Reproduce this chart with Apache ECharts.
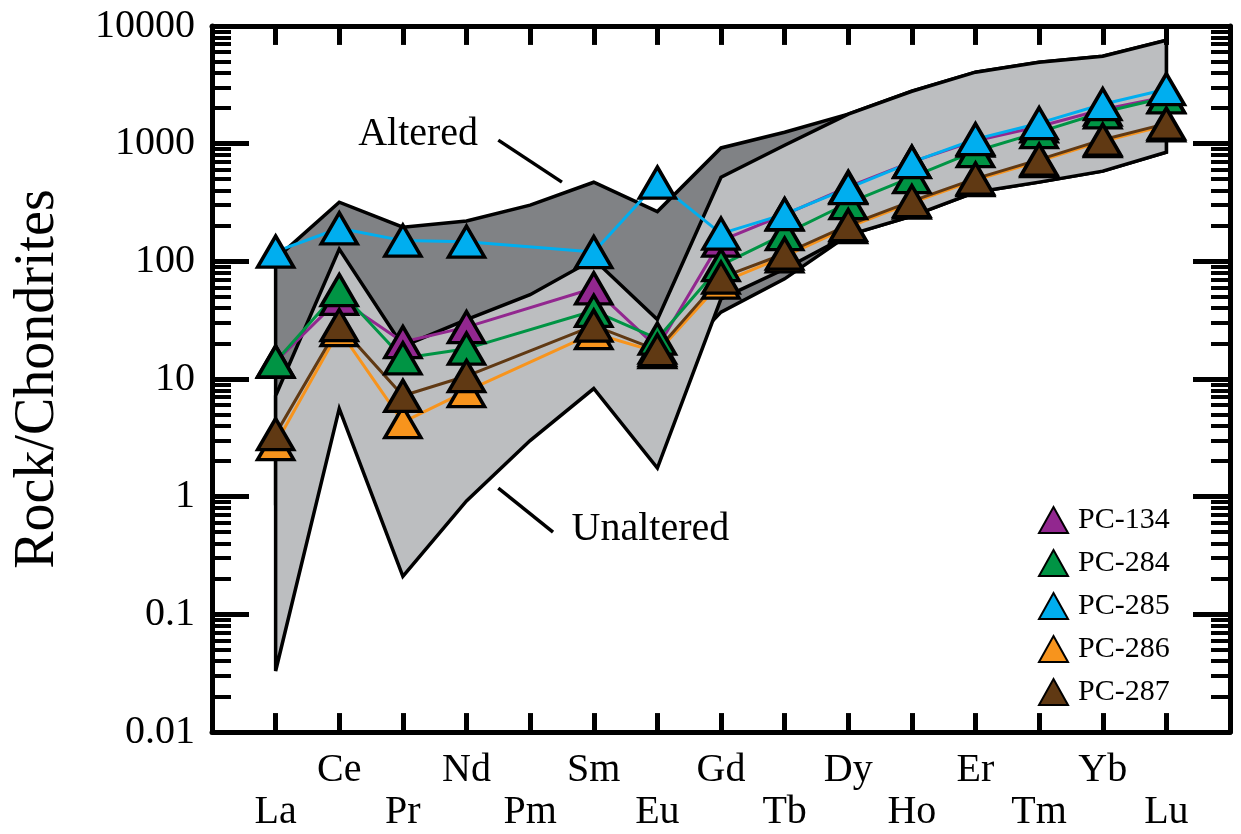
<!DOCTYPE html>
<html>
<head>
<meta charset="utf-8">
<title>Rock/Chondrites</title>
<script src="https://cdn.jsdelivr.net/npm/echarts@6/dist/echarts.min.js"></script>
<style>
  html, body { margin: 0; padding: 0; background: #fff; }
  #chart { width: 1241px; height: 834px; }
</style>
</head>
<body>
<div id="chart"></div>
<script>
// REE, chondrite-normalised
var elements = ['La', 'Ce', 'Pr', 'Nd', 'Pm', 'Sm', 'Eu', 'Gd', 'Tb', 'Dy', 'Ho', 'Er', 'Tm', 'Yb', 'Lu'];
var yTicks = [0.01, 0.1, 1, 10, 100, 1000, 10000];

// samples (Pm not measured)
var pc134 = [14, 48, 20.6, 27.6, null, 59, 18.5, 150, 250, 430, 700, 1060, 1400, 1950, 2500];
var pc284 = [14.1, 57, 15, 18.1, null, 38, 22, 93, 170, 313, 520, 863, 1254, 1849, 2480];
var pc285 = [121, 191, 150, 147, null, 120, 467, 172, 252, 419, 697, 1092, 1493, 2163, 2904];
var pc286 = [2.8, 26, 4.3, 7.9, null, 24.5, 16.9, 66, 110, 195, 315, 490, 710, 1050, 1430];
var pc287 = [3.4, 28.7, 7.2, 10.6, null, 28.4, 17.6, 72.7, 116, 203, 325, 505, 731, 1081, 1479];

// envelopes
var alteredUpper = [105, 318, 195, 220, 300, 470, 265, 920, 1250, 1780, 2790, 4050, 4920, 5540, 7570];
var alteredLower = [1, 20, 5, 10, 15, 20, 10, 37, 71, 167, 242, 387, 471, 584, 847];
var unalteredUpper = [7.2, 127, 19, 32, 52, 104, 32, 519, 970, 1780, 2790, 4050, 4920, 5540, 7570];
var unalteredLower = [0.033, 5.6, 0.21, 0.92, 3.0, 8.3, 1.75, 48, 86, 167, 242, 387, 471, 584, 847];

var FONT = 'Liberation Serif';

var minorTicks = [];
yTicks.slice(0, -1).forEach(function (d) {
  for (var k = 2; k <= 9; k++) minorTicks.push(+(d * k).toPrecision(3));
});

// label axis: one blank slot each side so elements sit one step in from the frame
var tickCats = [''].concat(elements, ['']);

function toPoints(arr) {
  var out = [];
  arr.forEach(function (v, i) { if (v != null) out.push([i, v]); });
  return out;
}

function band(name, upper, lower, fill) {
  return {
    name: name,
    type: 'custom',
    silent: true,
    z: 1,
    data: upper.map(function (v, i) { return [i, v, lower[i]]; }),
    encode: { x: 0, y: [1, 2] },
    renderItem: function (params, api) {
      if (params.dataIndex !== 0) return null;
      var pts = [];
      upper.forEach(function (v, i) { pts.push(api.coord([i, v])); });
      for (var i = lower.length - 1; i >= 0; i--) pts.push(api.coord([i, lower[i]]));
      return {
        type: 'polygon',
        shape: { points: pts },
        style: { fill: fill, stroke: '#000', lineWidth: 3.5, miterLimit: 6 }
      };
    }
  };
}

function sample(name, arr, color) {
  return {
    name: name,
    type: 'line',
    data: toPoints(arr),
    z: 3,
    symbol: 'triangle',
    symbolSize: [36, 31],
    lineStyle: { color: color, width: 3 },
    itemStyle: { color: color, borderColor: '#000', borderWidth: 3.5 },
    emphasis: { disabled: true }
  };
}

var myChart = echarts.init(document.getElementById('chart'));

function yAxisCfg(pos, major, label) {
  return {
    type: 'log',
    position: pos,
    min: 0.01,
    max: 10000,
    axisLine: { show: major, onZero: false, lineStyle: { color: '#000', width: 5 } },
    axisTick: {
      show: true,
      inside: true,
      length: major ? 37 : 19,
      customValues: major ? yTicks : minorTicks,
      lineStyle: { color: '#000', width: major ? 5 : 4 }
    },
    axisLabel: {
      show: label,
      margin: 17,
      fontFamily: FONT,
      fontSize: 40,
      color: '#000',
      formatter: function (v) { return String(+(+v).toPrecision(4)); }
    },
    splitLine: { show: false },
    name: label ? 'Rock/Chondrites' : '',
    nameLocation: 'middle',
    nameRotate: 90,
    nameGap: 146,
    nameTextStyle: { fontFamily: FONT, fontSize: 56, color: '#000' }
  };
}

function catAxisCfg(pos, label) {
  return {
    type: 'category',
    position: pos,
    data: tickCats,
    boundaryGap: false,
    axisLine: { show: true, onZero: false, lineStyle: { color: '#000', width: 5 } },
    axisTick: { show: true, inside: true, interval: 0, length: 18, lineStyle: { color: '#000', width: 5 } },
    axisLabel: {
      show: label,
      interval: 0,
      margin: 17,
      fontFamily: FONT,
      fontSize: 40,
      lineHeight: 42,
      color: '#000',
      formatter: function (v, idx) {
        if (!v) return '';
        return ((idx - 1) % 2 === 0 ? '\n' : '') + v;
      }
    },
    splitLine: { show: false }
  };
}

// element ticks: short segments just inside the bottom and top frame
var yLo = yTicks[0] * 1.02;
var yHi = yTicks[yTicks.length - 1] / 1.02;
var tickSegs = [];
elements.forEach(function (e, i) {
  tickSegs.push([{ coord: [i, yLo], lineStyle: { width: 5 } }, { coord: [i, yLo * 1.42] }]);
  tickSegs.push([{ coord: [i, yHi], lineStyle: { width: 5 } }, { coord: [i, yHi / 1.42] }]);
});

var option = {
  animation: false,
  backgroundColor: '#fff',
  grid: { left: 212, right: 11, top: 26, bottom: 102 },
  xAxis: [
    {
      type: 'value',
      position: 'bottom',
      min: -1,
      max: 15,
      interval: 1,
      axisLine: { show: false, onZero: false },
      axisTick: { show: false },
      axisLabel: { show: false },
      splitLine: { show: false }
    },
    catAxisCfg('bottom', true),
    catAxisCfg('top', false)
  ],
  yAxis: [
    yAxisCfg('left', true, true),
    yAxisCfg('left', false, false),
    yAxisCfg('right', true, false),
    yAxisCfg('right', false, false)
  ],
  legend: {
    orient: 'vertical',
    left: 1033,
    top: 500,
    icon: 'triangle',
    itemWidth: 29,
    itemHeight: 26,
    itemGap: 13,
    data: ['PC-134', 'PC-284', 'PC-285', 'PC-286', 'PC-287'],
    textStyle: { fontFamily: FONT, fontSize: 30, color: '#000', padding: [0, 0, 0, 5] }
  },
  series: [
    band('Altered', alteredUpper, alteredLower, '#808285'),
    band('Unaltered', unalteredUpper, unalteredLower, '#bcbec0'),
    sample('PC-134', pc134, '#92278f'),
    sample('PC-284', pc284, '#009444'),
    sample('PC-285', pc285, '#00aeef'),
    sample('PC-286', pc286, '#f7941d'),
    sample('PC-287', pc287, '#603913'),
    {
      name: 'notes',
      type: 'line',
      data: [],
      silent: true,
      markLine: {
        silent: true,
        symbol: 'none',
        label: { show: false },
        lineStyle: { color: '#000', width: 3.5, type: 'solid' },
        data: [
          [{ coord: [3.5, 1072] }, { coord: [4.5, 471] }],
          [{ coord: [3.5, 1.18] }, { coord: [4.36, 0.5] }]
        ].concat(tickSegs)
      },
      markPoint: {
        silent: true,
        symbolSize: 0,
        label: { show: true, position: 'inside', fontFamily: FONT, fontSize: 40, color: '#000', formatter: '{b}' },
        data: [
          { name: 'Altered', coord: [2.24, 1205] },
          { name: 'Unaltered', coord: [5.89, 0.53] }
        ]
      }
    }
  ]
};

myChart.setOption(option);
window.addEventListener('resize', function () { myChart.resize(); });
</script>
</body>
</html>
